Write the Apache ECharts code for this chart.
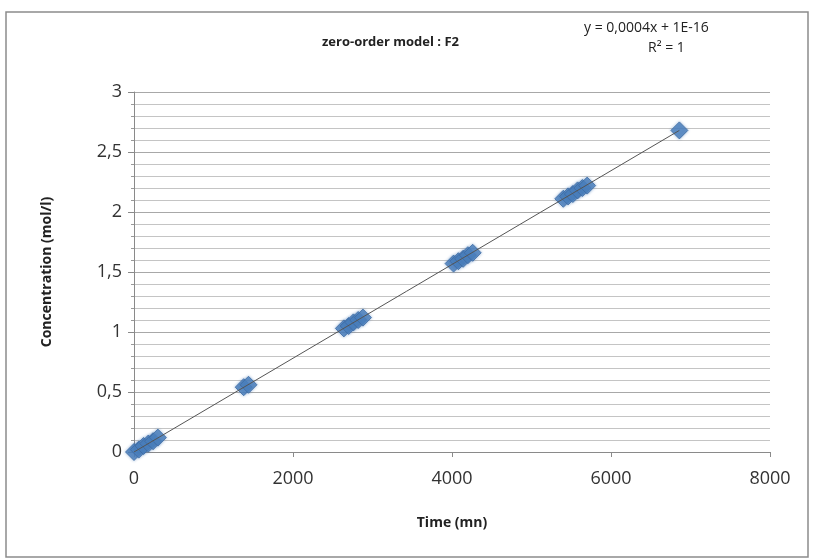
<!DOCTYPE html>
<html>
<head>
<meta charset="utf-8">
<script src="https://cdn.jsdelivr.net/npm/echarts@6/dist/echarts.min.js"></script>
<style>
  html, body { margin: 0; padding: 0; background: #fff; }
  #chart { width: 813px; height: 559px; }
</style>
</head>
<body>
<div id="chart"></div>
<script>
// Sampling times (min) and measured concentrations (mol/l)
const timeMn = [0, 60, 120, 180, 240, 300,
                1380, 1440,
                2640, 2700, 2760, 2820, 2880,
                4020, 4080, 4140, 4200, 4260,
                5400, 5460, 5520, 5580, 5640, 5700,
                6860];
const concMolL = [0, 0.02, 0.05, 0.07, 0.09, 0.12,
                  0.54, 0.56,
                  1.03, 1.05, 1.08, 1.10, 1.12,
                  1.57, 1.59, 1.61, 1.64, 1.66,
                  2.11, 2.13, 2.15, 2.18, 2.20, 2.22,
                  2.68];
// Linear fit end points
const fitX = [0, 6860];
const fitY = [0, 2.68];

const xTicks = [0, 8000, 2000];   // min, max, interval
const yTicks = [0, 3, 0.5];

const FONT = "'Open Sans', 'Liberation Sans', sans-serif";

const chart = echarts.init(document.getElementById('chart'), null, { renderer: 'canvas' });
chart.setOption({
  backgroundColor: '#ffffff',
  animation: false,
  graphic: [
    { type: 'rect', shape: { x: 6, y: 12, width: 802, height: 545 },
      style: { fill: 'none', stroke: '#8c8c8c', lineWidth: 1.5 }, z: -1 },
    { type: 'text', left: 322, top: 36,
      style: { text: 'zero-order model : F2', font: 'bold 13px ' + FONT, fill: '#222' } },
    { type: 'text', left: 584, top: 21,
      style: { text: 'y = 0,0004x + 1E-16', font: '14px ' + FONT, fill: '#222' } },
    { type: 'text', left: 648, top: 41,
      style: { text: 'R² = 1', font: '14px ' + FONT, fill: '#222' } }
  ],
  grid: { left: 134, right: 43, top: 92, bottom: 107, containLabel: false },
  xAxis: {
    type: 'value', min: xTicks[0], max: xTicks[1], interval: xTicks[2],
    name: 'Time (mn)', nameLocation: 'middle', nameGap: 64,
    nameTextStyle: { fontFamily: FONT, fontWeight: 'bold', fontSize: 14, color: '#222' },
    axisLine: { show: true, lineStyle: { color: '#8a8a8a', width: 1 } },
    axisTick: { show: true, inside: false, length: 5, lineStyle: { color: '#8a8a8a' } },
    axisLabel: { fontFamily: FONT, fontSize: 18, color: '#333', margin: 18,
      formatter: v => String(v) },
    splitLine: { show: false }
  },
  yAxis: {
    type: 'value', min: yTicks[0], max: yTicks[1], interval: yTicks[2],
    name: 'Concentration (mol/l)', nameLocation: 'middle', nameGap: 80, nameRotate: 90,
    nameTextStyle: { fontFamily: FONT, fontWeight: 'bold', fontSize: 14, color: '#222' },
    axisLine: { show: true, lineStyle: { color: '#8a8a8a', width: 1 } },
    axisTick: { show: true, inside: false, length: 6, lineStyle: { color: '#8a8a8a' } },
    minorTick: { show: true, splitNumber: 5, length: 3, lineStyle: { color: '#9a9a9a' } },
    axisLabel: { fontFamily: FONT, fontSize: 18, color: '#333', margin: 12,
      formatter: v => String(+v.toFixed(1)).replace('.', ',') },
    splitLine: { show: true, lineStyle: { color: '#a8a8a8', width: 1 } },
    minorSplitLine: { show: true, lineStyle: { color: '#c4c4c4', width: 1 } }
  },
  series: [
    {
      type: 'scatter', name: 'F2',
      data: timeMn.map((t, i) => [t, concMolL[i]]),
      symbol: 'diamond', symbolSize: 17,
      itemStyle: { color: '#4a7ebb', borderColor: '#3d6aa3', borderWidth: 1,
        shadowBlur: 3, shadowColor: 'rgba(74,126,187,0.6)' },
      z: 2
    },
    {
      type: 'line', name: 'Linear (F2)',
      data: fitX.map((x, i) => [x, fitY[i]]),
      symbol: 'none', lineStyle: { color: '#555', width: 1 },
      z: 3
    }
  ]
});
</script>
</body>
</html>
